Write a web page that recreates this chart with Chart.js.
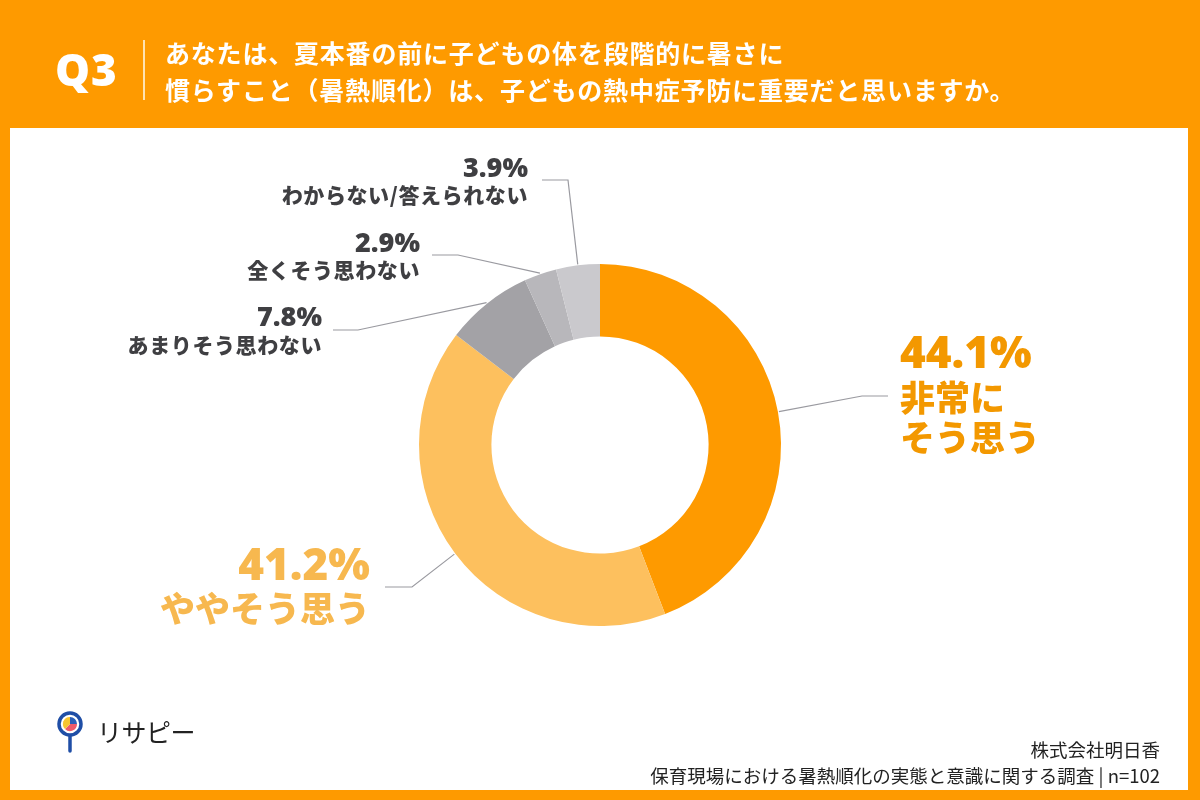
<!DOCTYPE html>
<html lang="ja">
<head>
<meta charset="utf-8">
<title>Q3 暑熱順化</title>
<script src="https://cdn.jsdelivr.net/npm/chart.js@4.4.1/dist/chart.umd.min.js"></script>
<style>
  html, body { margin: 0; padding: 0; }
  body {
    width: 1200px; height: 800px; overflow: hidden; position: relative;
    background: #fe9a00;
    font-family: "Noto Sans CJK JP", "Noto Sans", sans-serif;
  }
  #panel { position: absolute; left: 10px; top: 128px; width: 1178px; height: 662px; background: #fff; }
  #chart { position: absolute; left: 0; top: 0; }
  .q { position: absolute; left: 55px; top: 42px; font: 900 44px "Noto Sans", "Noto Sans CJK JP", sans-serif; color: #fff; line-height: 54px; letter-spacing: 1px; }
  .bar { position: absolute; left: 143px; top: 40px; width: 2px; height: 60px; background: #ffe2b0; }
  .title { position: absolute; left: 165px; top: 34px; color: #fff; font-weight: 700; font-size: 25px; line-height: 37px; letter-spacing: 0.8px; }
  .logo { position: absolute; left: 55px; top: 708px; display: flex; align-items: center; }
  .logo span { font-size: 25px; color: #222; margin-left: 12px; letter-spacing: -0.5px; }
  .source { position: absolute; right: 40px; top: 736px; text-align: right; font-size: 18.5px; line-height: 26px; color: #222; }
</style>
</head>
<body>
<div id="panel"></div>
<canvas id="chart" width="1200" height="800"></canvas>
<div class="q">Q3</div>
<div class="bar"></div>
<div class="title">あなたは、夏本番の前に子どもの体を段階的に暑さに<br>慣らすこと（暑熱順化）は、子どもの熱中症予防に重要だと思いますか。</div>
<div class="logo">
  <svg width="30" height="46" viewBox="0 0 30 46">
    <line x1="15" y1="28" x2="15" y2="43" stroke="#1f4ea6" stroke-width="3.5" stroke-linecap="round"/>
    <circle cx="15" cy="16" r="11" fill="#fff" stroke="#1f4ea6" stroke-width="3.5"/>
    <path d="M15 16 L15 9 A7 7 0 0 1 22 16 Z" fill="#2b5fb8"/>
    <path d="M15 16 L22 16 A7 7 0 0 1 10 21 Z" fill="#ef5a6a"/>
    <path d="M15 16 L10 21 A7 7 0 0 1 15 9 Z" fill="#f7c531"/>
  </svg>
  <span>リサピー</span>
</div>
<div class="source">株式会社明日香<br>保育現場における暑熱順化の実態と意識に関する調査 | n=102</div>
<script>
// answers, clockwise from 12 o'clock
const categories = [['非常に', 'そう思う'], ['ややそう思う'], ['あまりそう思わない'], ['全くそう思わない'], ['わからない/答えられない']];
const shares = [44.1, 41.2, 7.8, 2.9, 3.9];
const sliceColors = ['#fe9a00', '#fdc05e', '#a3a2a6', '#b8b7bb', '#cac9cd'];
const textColors = ['#f39800', '#f7b84f', '#3f3f42', '#3f3f42', '#3f3f42'];

// where each callout goes: elbow, end of line, text anchor
const callouts = [
  { elbow: [862, 396], end: [888, 396], x: 900, align: 'left', pctY: 355, lineY: [398, 438], big: true },
  { elbow: [412, 587], end: [385, 587], x: 370, align: 'right', pctY: 567, lineY: [609], big: true },
  { elbow: [358, 330], end: [333, 330], x: 322, align: 'right', pctY: 318, lineY: [345] },
  { elbow: [458, 255], end: [432, 255], x: 420, align: 'right', pctY: 244, lineY: [270] },
  { elbow: [568, 180], end: [542, 180], x: 528, align: 'right', pctY: 169, lineY: [195] }
];

const calloutPlugin = {
  id: 'callouts',
  afterDraw(chart) {
    const c = chart.ctx;
    const arcs = chart.getDatasetMeta(0).data;
    arcs.forEach((arc, i) => {
      const p = arc.getProps(['x', 'y', 'startAngle', 'endAngle', 'outerRadius']);
      const mid = (p.startAngle + p.endAngle) / 2;
      const sx = p.x + Math.cos(mid) * (p.outerRadius + 1);
      const sy = p.y + Math.sin(mid) * (p.outerRadius + 1);
      const co = callouts[i];
      c.save();
      c.strokeStyle = '#9a9aa0';
      c.lineWidth = 1.2;
      c.beginPath();
      c.moveTo(sx, sy);
      c.lineTo(co.elbow[0], co.elbow[1]);
      c.lineTo(co.end[0], co.end[1]);
      c.stroke();

      c.fillStyle = textColors[i];
      c.textAlign = co.align;
      c.textBaseline = 'middle';
      c.font = co.big ? '900 44px "Noto Sans", "Noto Sans CJK JP", sans-serif'
                      : '900 27px "Noto Sans", "Noto Sans CJK JP", sans-serif';
      c.fillText(shares[i].toFixed(1) + '%', co.x, co.pctY);
      c.font = co.big ? '900 35px "Noto Sans CJK JP", sans-serif'
                      : '900 21px "Noto Sans CJK JP", sans-serif';
      if (!co.big) c.letterSpacing = '0.6px';
      categories[i].forEach((line, k) => c.fillText(line, co.x, co.lineY[k]));
      c.restore();
    });
  }
};

new Chart(document.getElementById('chart').getContext('2d'), {
  type: 'doughnut',
  data: {
    labels: categories.map(l => l.join('')),
    datasets: [{
      data: shares,
      backgroundColor: sliceColors,
      borderWidth: 0
    }]
  },
  options: {
    responsive: false,
    animation: false,
    cutout: '60%',
    layout: { padding: { top: 264, bottom: 174, left: 419, right: 419 } },
    plugins: { legend: { display: false }, tooltip: { enabled: false } }
  },
  plugins: [calloutPlugin]
});
</script>
</body>
</html>
